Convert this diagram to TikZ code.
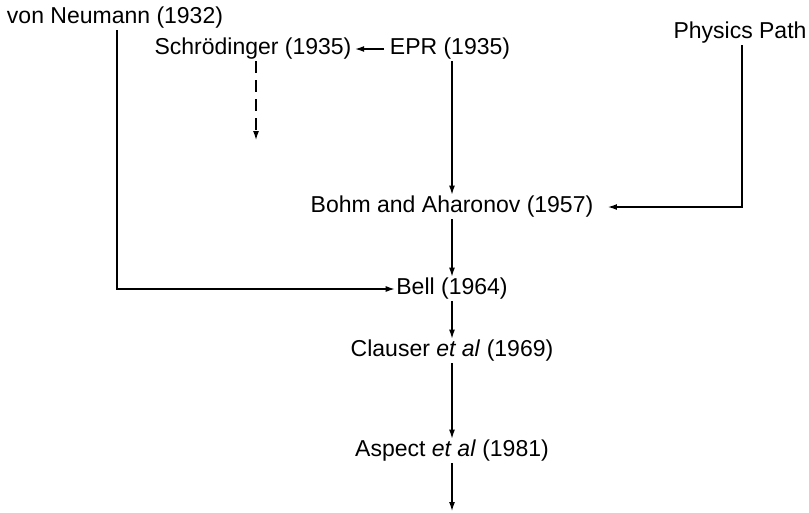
\documentclass[tikz,border=0pt]{standalone}
\usepackage{fontspec}
\setmainfont{Liberation Sans}
\usetikzlibrary{arrows.meta}

\begin{document}
\begin{tikzpicture}[x=1pt,y=-1pt,>={Latex[length=9pt,width=6pt]},
    every node/.style={inner sep=1.5pt,font=\fontsize{23}{28}\selectfont},
    link/.style={->,line width=1.2pt}]
        \useasboundingbox (0,0) rectangle (809,512);
        \node (neumann) at (115,18) {von Neumann (1932)};
        \node (schr) at (253,49) {Schrödinger (1935)};
        \node (epr) at (450,49) {EPR (1935)};
        \node (phys) at (740,33) {Physics Path};
        \node (bohm) at (452,207) {Bohm and Aharonov (1957)};
        \node (bell) at (452,289) {Bell (1964)};
        \node (clauser) at (452,351) {Clauser \textit{et al} (1969)};
        \node (aspect) at (452,451) {Aspect \textit{et al} (1981)};
        \coordinate (schrEnd) at (256,140);
        \coordinate (aspectEnd) at (452,511);
        \draw[link,shorten <=4pt,shorten >=2pt] (epr) -- (schr);
        \draw[link,dash pattern=on 12pt off 7pt] (schr.south -| schrEnd) -- (schrEnd);
        \draw[link] (epr.south -| bohm) -- (bohm);
        \draw[link,shorten >=13pt] (phys.south -| 742,0) |- (bohm);
        \draw[link] (bohm) -- (bell);
        \draw[link] (neumann.south -| 117,0) |- (bell);
        \draw[link] (bell) -- (clauser);
        \draw[link] (clauser) -- (aspect);
        \draw[link] (aspect) -- (aspectEnd);
    \end{tikzpicture}
\end{document}
